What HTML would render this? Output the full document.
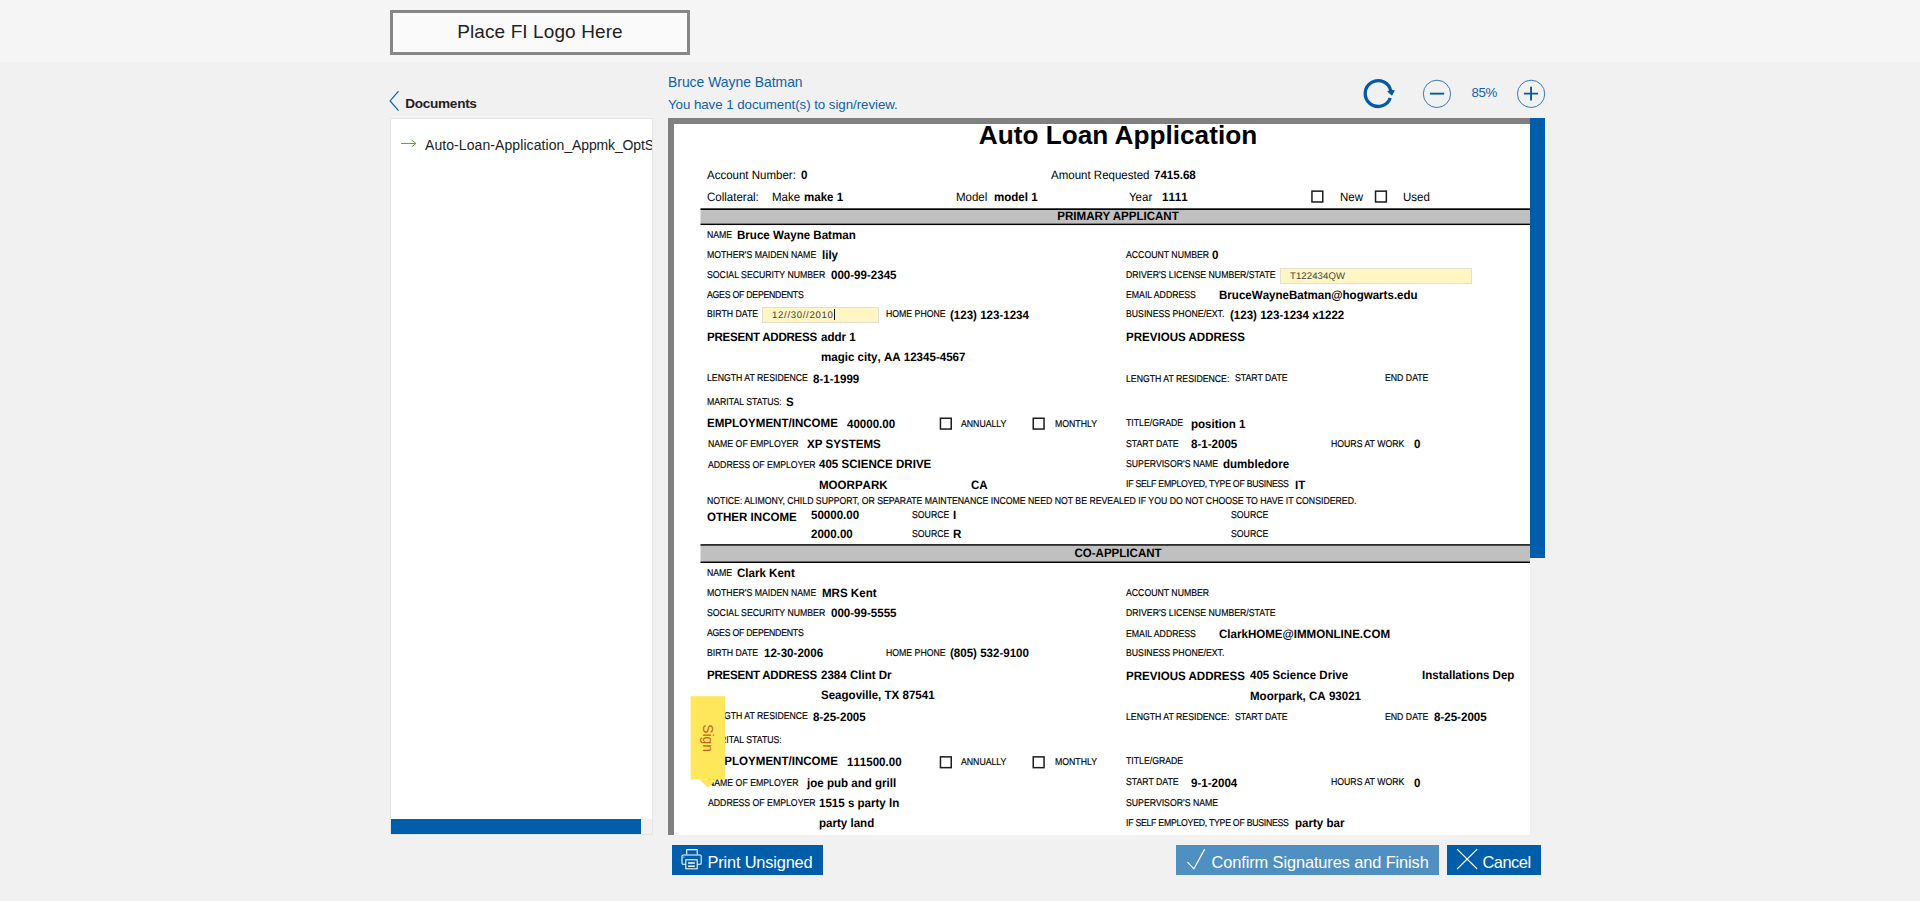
<!DOCTYPE html>
<html lang="en">
<head>
<meta charset="utf-8">
<title>Auto Loan Application - Sign Documents</title>
<style>
html,body{margin:0;padding:0}
body{width:1920px;height:901px;overflow:hidden;background:#f1f1f1;position:relative;font-family:"Liberation Sans",sans-serif;color:#000}
.hdr{position:absolute;left:0;top:0;width:1920px;height:62px;background:#f5f5f5}
.logo{position:absolute;left:390px;top:10px;width:294px;height:39px;border:3px solid #878787;background:#fafafa;text-align:center;line-height:38px;font-size:19px;color:#222;letter-spacing:.1px}
.back{position:absolute;left:405.3px;top:95px;letter-spacing:-.3px;font-size:13.6px;font-weight:bold;color:#222;line-height:18px}
.chev{position:absolute;left:389px;top:90px}
.side{position:absolute;left:390px;top:118px;width:261px;height:715px;background:#fff;border:1px solid #e4e4e4;overflow:hidden}
.side .item{position:absolute;left:34px;top:17px;font-size:14px;line-height:18px;color:#222;white-space:nowrap}
.side .arr{position:absolute;left:10px;top:20px}
.side .hs{position:absolute;left:0;top:700px;width:261px;height:15px;background:#f1f1f1}
.side .hs i{position:absolute;left:0;top:0;width:250px;height:15px;background:#005daa}
.uname{position:absolute;left:668px;top:73px;font-size:13.9px;line-height:18px;color:#0d61ab}
.umsg{position:absolute;left:668px;top:96px;font-size:13.3px;line-height:18px;color:#0d61ab;letter-spacing:-.05px}
.tool{position:absolute}
.pct{position:absolute;left:1471.5px;top:85px;font-size:13.3px;line-height:16px;color:#1262aa;letter-spacing:-.35px}
.viewer{position:absolute;left:668px;top:118px;width:877px;height:717px;background:#808080;overflow:hidden}
.paper{position:absolute;left:674px;top:124px;width:856px;height:711px;background:#fff}
.vs{position:absolute;left:1530px;top:118px;width:15px;height:717px;background:#f1f1f1}
.vs i{position:absolute;left:0;top:0;width:15px;height:440px;background:#005daa}
#doc{position:absolute;left:0;top:0;width:1530px;height:835px;overflow:hidden;clip-path:inset(124px 0 0 674px)}
.t{position:absolute;white-space:nowrap;line-height:16px;height:16px}
.l{font-size:8.72px;transform:matrix(1,0,.0005,1.14,0,0);transform-origin:0 11px;-webkit-text-stroke:.15px #000}
.b{font-size:11.55px;font-weight:bold;font-kerning:none;transform:matrix(1,0,.0005,1.05,0,0);transform-origin:0 12px}
.h{font-size:11.55px;font-weight:bold;transform:matrix(1,0,.0005,1.05,0,0);transform-origin:0 12px}
.r{font-size:11.5px;transform:matrix(1,0,.0005,1.06,0,0);transform-origin:0 12px}
.title{position:absolute;left:701px;width:834px;top:119px;text-align:center;font-size:26.2px;font-weight:bold;line-height:32px;white-space:nowrap}
.cb{position:absolute}
.barsvg{position:absolute}
.bart{width:834px;text-align:center}
.inp{position:absolute;box-sizing:border-box;background:#fff6c4;border:1px solid #e2dfd0}
.inp span{position:absolute;top:-.5px;font-size:9.6px;line-height:13px;color:#424242;white-space:nowrap;transform:matrix(1,0,.0005,1,0,0)}
.inp .caret{position:absolute;top:1px;width:1px;height:11px;background:#111}
.signsvg{position:absolute}
.btn{position:absolute;top:845px;height:30px;margin:0;padding:0;border:0;border-radius:0;background:#005daa;color:#fff;font-family:inherit;font-size:16.4px;line-height:34px;white-space:nowrap;text-align:left;overflow:hidden}
.btn span{position:absolute;top:0}
.btn svg{position:absolute}
</style>
</head>
<body>
<div class="hdr"></div>
<div class="logo">Place FI Logo Here</div>

<svg class="chev" width="12" height="24" viewBox="0 0 12 24"><path d="M9.5 1.2 L1.1 10.9 L9.5 20.6" fill="none" stroke="#0b62ad" stroke-width="1.2"/></svg>
<div class="back">Documents</div>

<div class="side">
  <svg class="arr" width="16" height="10" viewBox="0 0 16 10"><path d="M0 4.5 H14.7 M10.7 1.1 L14.9 4.5 L10.7 7.9" fill="none" stroke="#6a9f3c" stroke-width="1"/></svg>
  <div class="item"><span style="letter-spacing:.08px">Auto-Loan-Application</span><span style="letter-spacing:-.15px">_Appmk_OptS</span></div>
  <div class="hs"><i></i></div>
</div>

<div class="uname">Bruce Wayne Batman</div>
<div class="umsg">You have 1 document(s) to sign/review.</div>

<svg class="tool" style="left:1360px;top:76px" width="36" height="34" viewBox="0 0 36 34">
  <path d="M30.22 21.96 A12.9 12.9 0 1 1 30.8 15.3" fill="none" stroke="#045aa8" stroke-width="3.3"/>
  <path d="M27.1 15.4 L31.2 13.6 L34.9 14.6 L32 19.8 Z" fill="#045aa8"/>
</svg>
<svg class="tool" style="left:1422px;top:79px" width="30" height="30" viewBox="0 0 30 30">
  <circle cx="14.95" cy="14.85" r="13.65" fill="none" stroke="#1a64ac" stroke-width="0.85"/>
  <path d="M7.9 14.65 H22.2" stroke="#045aa8" stroke-width="1.9"/>
</svg>
<div class="pct">85%</div>
<svg class="tool" style="left:1516px;top:79px" width="30" height="30" viewBox="0 0 30 30">
  <circle cx="15.1" cy="14.85" r="13.65" fill="none" stroke="#1a64ac" stroke-width="0.85"/>
  <path d="M7.9 14.65 H22.1 M15.05 7.8 V21.6" stroke="#045aa8" stroke-width="1.9"/>
</svg>

<div class="viewer"></div>
<div class="paper"></div>
<div id="doc">
<div class="title">Auto Loan Application</div>
<span class="t r" style="left:707px;top:166.7px">Account Number:</span>
<span class="t b" style="left:801px;top:167.2px">0</span>
<span class="t r" style="left:1051px;top:166.7px">Amount Requested</span>
<span class="t b" style="left:1154px;top:167.2px">7415.68</span>
<span class="t r" style="left:707px;top:188.7px">Collateral:</span>
<span class="t r" style="left:772px;top:188.7px">Make</span>
<span class="t b" style="left:804px;top:189.2px">make 1</span>
<span class="t r" style="left:956px;top:188.7px">Model</span>
<span class="t b" style="left:994px;top:189.2px">model 1</span>
<span class="t r" style="left:1129px;top:188.7px">Year</span>
<span class="t b" style="left:1162px;top:189.2px">1111</span>
<svg class="cb" style="left:1310px;top:189px" width="16" height="16" viewBox="0 0 16 16"><rect x="1.95" y="2.15" width="10.80" height="10.80" fill="#fff" stroke="#1c1c1c" stroke-width="1.5"/></svg>
<span class="t r" style="left:1339.5px;top:188.7px">New</span>
<svg class="cb" style="left:1373px;top:189px" width="16" height="16" viewBox="0 0 16 16"><rect x="2.55" y="2.15" width="10.80" height="10.80" fill="#fff" stroke="#1c1c1c" stroke-width="1.5"/></svg>
<span class="t r" style="left:1403px;top:188.7px">Used</span>
<svg class="barsvg" style="left:700px;top:207px" width="840" height="20" viewBox="0 0 840 20"><rect x="0.5" y="3.00" width="840" height="13.55" fill="#c0c0c0"/><rect x="0.5" y="1.30" width="840" height="1.70" fill="#000"/><rect x="0.5" y="16.55" width="840" height="1.50" fill="#000"/></svg>
<span class="t h bart" style="left:700.7px;top:208.275px">PRIMARY APPLICANT</span>
<span class="t l" style="left:707px;top:227px">NAME</span>
<span class="t b" style="left:737px;top:227.2px">Bruce Wayne Batman</span>
<span class="t l" style="left:707px;top:247px">MOTHER'S MAIDEN NAME</span>
<span class="t b" style="left:822px;top:247.2px">lily</span>
<span class="t l" style="left:1126.2px;top:247px">ACCOUNT NUMBER</span>
<span class="t b" style="left:1212px;top:247.2px">0</span>
<span class="t l" style="left:707px;top:267px">SOCIAL SECURITY NUMBER</span>
<span class="t b" style="left:831px;top:267.2px">000-99-2345</span>
<span class="t l" style="left:1126.2px;top:267px">DRIVER'S LICENSE NUMBER/STATE</span>
<span class="t l" style="left:707px;top:286.9px;letter-spacing:-0.238px">AGES OF DEPENDENTS</span>
<span class="t l" style="left:1126.2px;top:287.0px">EMAIL ADDRESS</span>
<span class="t b" style="left:1219px;top:287.2px">BruceWayneBatman@hogwarts.edu</span>
<span class="t l" style="left:707px;top:306px">BIRTH DATE</span>
<span class="t l" style="left:885.8px;top:306.4px">HOME PHONE</span>
<span class="t b" style="left:950px;top:306.8px">(123) 123-1234</span>
<span class="t l" style="left:1126.2px;top:306.0px">BUSINESS PHONE/EXT.</span>
<span class="t b" style="left:1230px;top:307.2px">(123) 123-1234 x1222</span>
<span class="t h" style="left:707px;top:328.59999999999997px;letter-spacing:-0.254px">PRESENT ADDRESS</span>
<span class="t b" style="left:821px;top:328.59999999999997px">addr 1</span>
<span class="t b" style="left:821px;top:349.0px">magic city, AA 12345-4567</span>
<span class="t h" style="left:1126.2px;top:329.2px">PREVIOUS ADDRESS</span>
<span class="t l" style="left:707px;top:370px">LENGTH AT RESIDENCE</span>
<span class="t b" style="left:813px;top:370.59999999999997px">8-1-1999</span>
<span class="t l" style="left:1126.2px;top:371px">LENGTH AT RESIDENCE:</span>
<span class="t l" style="left:1235px;top:370.0px">START DATE</span>
<span class="t l" style="left:1385px;top:370.0px">END DATE</span>
<span class="t l" style="left:707px;top:394px">MARITAL STATUS:</span>
<span class="t b" style="left:786px;top:394.2px">S</span>
<span class="t h" style="left:707px;top:415.2px">EMPLOYMENT/INCOME</span>
<span class="t b" style="left:846.8px;top:415.8px">40000.00</span>
<svg class="cb" style="left:938px;top:416px" width="16" height="16" viewBox="0 0 16 16"><rect x="2.45" y="2.25" width="10.80" height="10.80" fill="#fff" stroke="#1c1c1c" stroke-width="1.5"/></svg>
<span class="t l" style="left:961px;top:416px">ANNUALLY</span>
<svg class="cb" style="left:1031px;top:416px" width="16" height="16" viewBox="0 0 16 16"><rect x="2.25" y="2.25" width="10.80" height="10.80" fill="#fff" stroke="#1c1c1c" stroke-width="1.5"/></svg>
<span class="t l" style="left:1055px;top:416px">MONTHLY</span>
<span class="t l" style="left:1126.2px;top:415px">TITLE/GRADE</span>
<span class="t b" style="left:1191.3px;top:415.8px">position 1</span>
<span class="t l" style="left:708px;top:436.0px">NAME OF EMPLOYER</span>
<span class="t b" style="left:807px;top:436.2px">XP SYSTEMS</span>
<span class="t l" style="left:1126.2px;top:436px">START DATE</span>
<span class="t b" style="left:1191px;top:436.2px">8-1-2005</span>
<span class="t l" style="left:1331px;top:436px">HOURS AT WORK</span>
<span class="t b" style="left:1414px;top:436.2px">0</span>
<span class="t l" style="left:708px;top:457px">ADDRESS OF EMPLOYER</span>
<span class="t b" style="left:819px;top:456.2px">405 SCIENCE DRIVE</span>
<span class="t l" style="left:1126.2px;top:456.0px">SUPERVISOR'S NAME</span>
<span class="t b" style="left:1223px;top:456.2px">dumbledore</span>
<span class="t b" style="left:819px;top:477.2px">MOORPARK</span>
<span class="t b" style="left:971px;top:477.2px">CA</span>
<span class="t l" style="left:1126.2px;top:476.0px;letter-spacing:-0.255px">IF SELF EMPLOYED, TYPE OF BUSINESS</span>
<span class="t b" style="left:1295px;top:476.7px">IT</span>
<span class="t l" style="left:707px;top:493px;letter-spacing:0.000px">NOTICE: ALIMONY, CHILD SUPPORT, OR SEPARATE MAINTENANCE INCOME NEED NOT BE REVEALED IF YOU DO NOT CHOOSE TO HAVE IT CONSIDERED.</span>
<span class="t h" style="left:707px;top:508.70000000000005px">OTHER INCOME</span>
<span class="t b" style="left:811px;top:507.20000000000005px">50000.00</span>
<span class="t l" style="left:912px;top:507px">SOURCE</span>
<span class="t b" style="left:953px;top:507.20000000000005px">I</span>
<span class="t l" style="left:1231px;top:507px">SOURCE</span>
<span class="t b" style="left:811px;top:526.2px">2000.00</span>
<span class="t l" style="left:912px;top:526px">SOURCE</span>
<span class="t b" style="left:953px;top:526.2px">R</span>
<span class="t l" style="left:1231px;top:526px">SOURCE</span>
<svg class="barsvg" style="left:700px;top:543px" width="840" height="21" viewBox="0 0 840 21"><rect x="0.5" y="2.90" width="840" height="15.55" fill="#c0c0c0"/><rect x="0.5" y="1.00" width="840" height="1.90" fill="#303030"/><rect x="0.5" y="18.45" width="840" height="1.55" fill="#000"/></svg>
<span class="t h bart" style="left:701.4px;top:545.0749999999999px">CO-APPLICANT</span>
<span class="t l" style="left:707px;top:565px">NAME</span>
<span class="t b" style="left:737px;top:565.2px">Clark Kent</span>
<span class="t l" style="left:707px;top:585px">MOTHER'S MAIDEN NAME</span>
<span class="t b" style="left:822px;top:585.2px">MRS Kent</span>
<span class="t l" style="left:1126.2px;top:585px">ACCOUNT NUMBER</span>
<span class="t l" style="left:707px;top:605px">SOCIAL SECURITY NUMBER</span>
<span class="t b" style="left:831px;top:605.2px">000-99-5555</span>
<span class="t l" style="left:1126.2px;top:605px">DRIVER'S LICENSE NUMBER/STATE</span>
<span class="t l" style="left:707px;top:625.1999999999999px;letter-spacing:-0.238px">AGES OF DEPENDENTS</span>
<span class="t l" style="left:1126.2px;top:625.6px">EMAIL ADDRESS</span>
<span class="t b" style="left:1219px;top:625.8000000000001px">ClarkHOME@IMMONLINE.COM</span>
<span class="t l" style="left:707px;top:645px">BIRTH DATE</span>
<span class="t b" style="left:764px;top:645.2px">12-30-2006</span>
<span class="t l" style="left:885.8px;top:645.0px">HOME PHONE</span>
<span class="t b" style="left:950px;top:644.8000000000001px">(805) 532-9100</span>
<span class="t l" style="left:1126.2px;top:644.6px">BUSINESS PHONE/EXT.</span>
<span class="t h" style="left:707px;top:667.2px;letter-spacing:-0.254px">PRESENT ADDRESS</span>
<span class="t b" style="left:821px;top:667.2px">2384 Clint Dr</span>
<span class="t b" style="left:821px;top:687.2px">Seagoville, TX 87541</span>
<span class="t h" style="left:1126.2px;top:667.8000000000001px">PREVIOUS ADDRESS</span>
<span class="t b" style="left:1250px;top:667.2px">405 Science Drive</span>
<span class="t b" style="left:1422px;top:667.2px">Installations Dep</span>
<span class="t b" style="left:1250px;top:687.8000000000001px">Moorpark, CA 93021</span>
<span class="t l" style="left:707px;top:708px">LENGTH AT RESIDENCE</span>
<span class="t b" style="left:813px;top:708.6px">8-25-2005</span>
<span class="t l" style="left:1126.2px;top:709px">LENGTH AT RESIDENCE:</span>
<span class="t l" style="left:1235px;top:708.6px">START DATE</span>
<span class="t l" style="left:1385px;top:708.6px">END DATE</span>
<span class="t b" style="left:1434px;top:708.6px">8-25-2005</span>
<span class="t l" style="left:707px;top:732px">MARITAL STATUS:</span>
<span class="t h" style="left:707px;top:753.2px">EMPLOYMENT/INCOME</span>
<span class="t b" style="left:846.8px;top:754.2px">111500.00</span>
<svg class="cb" style="left:938px;top:755px" width="16" height="16" viewBox="0 0 16 16"><rect x="2.45" y="1.85" width="10.80" height="10.80" fill="#fff" stroke="#1c1c1c" stroke-width="1.5"/></svg>
<span class="t l" style="left:961px;top:754px">ANNUALLY</span>
<svg class="cb" style="left:1031px;top:755px" width="16" height="16" viewBox="0 0 16 16"><rect x="2.25" y="1.85" width="10.80" height="10.80" fill="#fff" stroke="#1c1c1c" stroke-width="1.5"/></svg>
<span class="t l" style="left:1055px;top:754px">MONTHLY</span>
<span class="t l" style="left:1126.2px;top:753px">TITLE/GRADE</span>
<span class="t l" style="left:708px;top:774.6px">NAME OF EMPLOYER</span>
<span class="t b" style="left:807px;top:774.8000000000001px">joe pub and grill</span>
<span class="t l" style="left:1126.2px;top:774px">START DATE</span>
<span class="t b" style="left:1191px;top:774.8000000000001px">9-1-2004</span>
<span class="t l" style="left:1331px;top:774px">HOURS AT WORK</span>
<span class="t b" style="left:1414px;top:774.8000000000001px">0</span>
<span class="t l" style="left:708px;top:795px">ADDRESS OF EMPLOYER</span>
<span class="t b" style="left:819px;top:795.2px">1515 s party ln</span>
<span class="t l" style="left:1126.2px;top:794.6px">SUPERVISOR'S NAME</span>
<span class="t b" style="left:819px;top:815.2px">party land</span>
<span class="t l" style="left:1126.2px;top:814.6px;letter-spacing:-0.255px">IF SELF EMPLOYED, TYPE OF BUSINESS</span>
<span class="t b" style="left:1295px;top:814.7px">party bar</span>
<div class="inp" style="left:1280px;top:268px;width:192px;height:16px"><span style="left:8.7px;letter-spacing:.08px">T122434QW</span></div>
<div class="inp" style="left:762px;top:307px;width:117px;height:16px"><span style="left:9px;letter-spacing:.68px">12//30//2010</span><i class="caret" style="left:71px"></i></div>
<svg class="signsvg" style="left:688px;top:694px" width="40" height="96" viewBox="0 0 40 96"><rect x="2.7" y="2.2" width="34.5" height="83.3" fill="#ffe75b"/><path d="M11.6 85.4 H28.6 L20 93.8 Z" fill="#ffe75b"/><text transform="translate(14.9 44.1) rotate(90)" text-anchor="middle" font-family="Liberation Sans, sans-serif" font-size="13.8" fill="#c2601c">Sign</text></svg>
</div>
<div class="vs"><i></i></div>

<button type="button" class="btn" style="left:672px;width:151px">
  <svg style="left:0;top:0" width="40" height="30" viewBox="0 0 40 30"><g fill="none" stroke="#fff" stroke-width="1.05"><path d="M14.7 9.6 V4.6 H25.2 V9.6"/><rect x="10" y="9.9" width="19.2" height="9.4" rx="1"/><rect x="13.8" y="14.8" width="11.4" height="9" fill="#005daa"/><path d="M16.1 18.1 H22.8 M16.1 21.2 H22.8" stroke-width="1.5"/><path d="M11.4 12.1 H12.4" stroke-width="1"/></g></svg>
  <span style="left:35.6px;letter-spacing:-.19px">Print Unsigned</span>
</button>
<button type="button" class="btn" style="left:1176px;width:263px;background:#508fc1">
  <svg style="left:0;top:0" width="40" height="30" viewBox="0 0 40 30"><path d="M11.4 17.1 L17.9 23.8 L28.7 4.1" fill="none" stroke="#fff" stroke-width="1.15"/></svg>
  <span style="left:35.6px;letter-spacing:-.117px">Confirm Signatures and Finish</span>
</button>
<button type="button" class="btn" style="left:1447px;width:94px">
  <svg style="left:0;top:0" width="40" height="30" viewBox="0 0 40 30"><path d="M10.1 4.1 L30.2 24 M30.2 4.1 L10.1 24" fill="none" stroke="#fff" stroke-width="1.15"/></svg>
  <span style="left:35.5px;letter-spacing:-.49px">Cancel</span>
</button>
</body>
</html>
